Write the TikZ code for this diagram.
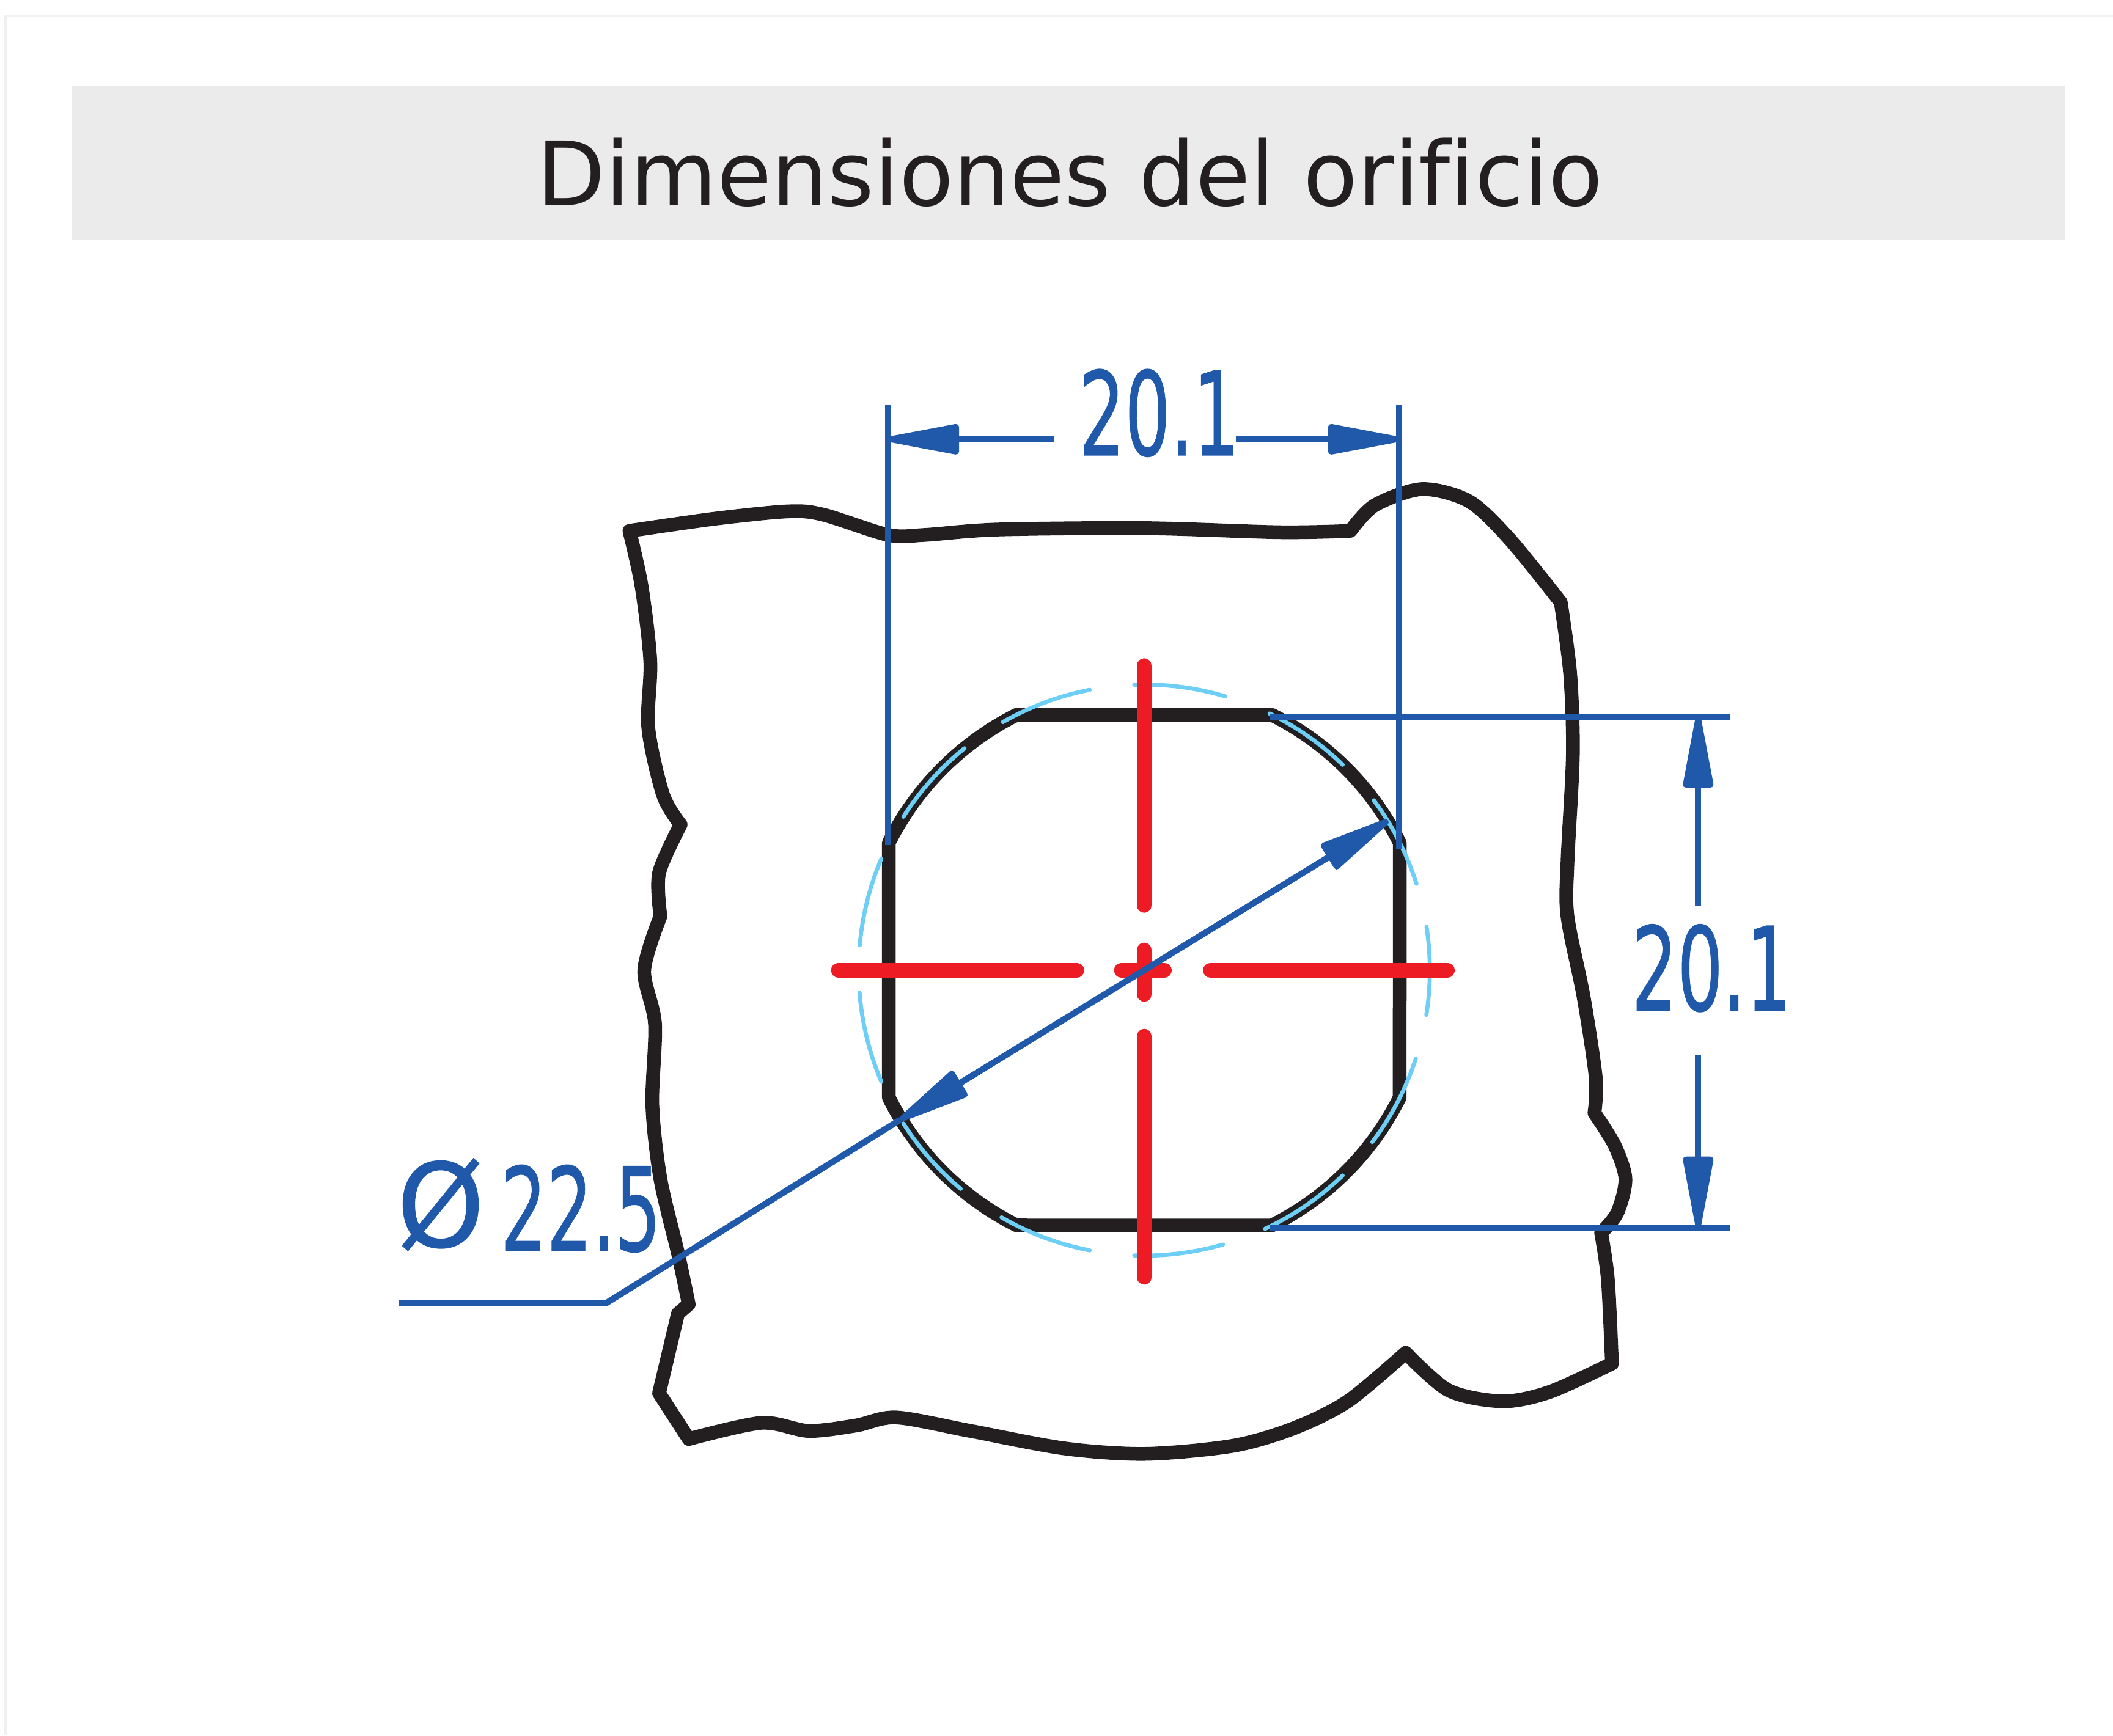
\documentclass[tikz,border=0pt]{standalone}
\usepackage{fontspec}
\setmainfont{DejaVu Sans}[Ligatures=NoCommon]
\newfontfamily\dimfont{DejaVu Sans}[FakeBold=0.7]
\usetikzlibrary{arrows.meta}
\definecolor{inkblack}{HTML}{231F20}
\definecolor{dimblue}{HTML}{2059A9}
\definecolor{cenred}{HTML}{ED1C24}
\definecolor{lightcirc}{HTML}{6DCFF6}
\definecolor{bandgray}{HTML}{EBEBEB}
\definecolor{framegray}{HTML}{F0F0F0}
\tikzset{
  outline/.style={draw=inkblack,line width=6.4pt,line join=round,line cap=round},
  dimline/.style={draw=dimblue,line width=2.9pt},
  dimarrow/.style={dimline,-{Triangle[length=40pt,width=14pt,round]}},
  cenline/.style={draw=cenred,line width=6.8pt,line cap=round},
  circarc/.style={draw=lightcirc,line width=1.9pt,line cap=round},
  dimtext/.style={font=\dimfont\fontsize{54}{54}\selectfont,text=dimblue,inner sep=0pt,xscale=.62},
}
\begin{document}
\begin{tikzpicture}[x=0.02205cm,y=-0.02205cm]
\useasboundingbox (0,0) rectangle (1567.8,1288);
\draw[framegray,line width=1pt] (4,1288) -- (4,12) -- (1568,12);
\fill[bandgray] (53,64) rectangle (1532,178);
\node[font=\fontsize{41.4}{41.4}\selectfont,text=inkblack,inner sep=0pt,anchor=base] (title) at (794,152.5) {Dimensiones del orificio};
% plate outline
\draw[outline] plot[smooth,tension=.5] coordinates {(467,394) (530,385) (585,379.5) (611,382) (659,397) (686,397) (740,393) (850,392) (950,395) (1002,394)}
 -- plot[smooth,tension=.5] coordinates {(1002,394) (1020,375) (1055,363) (1090,372) (1120,400) (1158,447)}
 -- plot[smooth,tension=.5] coordinates {(1158,447) (1165,500) (1167,560) (1163,640) (1163,680) (1175,740) (1184,800) (1183,826)}
 -- plot[smooth,tension=.5] coordinates {(1183,826) (1198,850) (1206,875) (1200,900) (1188,915)}
 -- plot[smooth,tension=.5] coordinates {(1188,915) (1193,950) (1196,1012)}
 -- plot[smooth,tension=.5] coordinates {(1196,1012) (1150,1033) (1115,1040) (1075,1032) (1043,1004)}
 -- plot[smooth,tension=.5] coordinates {(1043,1004) (1000,1040) (960,1060) (915,1073) (850,1079) (790,1075) (720,1062) (665,1052) (635,1058) (600,1062) (565,1056) (511,1068)}
 -- (489,1034) -- (503,975) -- (511,968)
 -- plot[smooth,tension=.5] coordinates {(511,968) (503,930) (490,875) (484,820) (486,760) (478,720) (490,680)}
 -- plot[smooth,tension=.5] coordinates {(490,680) (489,648) (505,612)}
 -- plot[smooth,tension=.5] coordinates {(505,612) (492,590) (481,540) (482.5,491) (476,435) (467,394)} -- cycle;
\begin{scope}[shift={(849,720)}]
% hole
\draw[outline] (-94.5,-189.5) -- (94.5,-189.5)
  arc[start angle=-63.5,end angle=-26.5,radius=211.9] -- (189.5,94.5)
  arc[start angle=26.5,end angle=63.5,radius=211.9] -- (-94.5,189.5)
  arc[start angle=116.5,end angle=153.5,radius=211.9] -- (-189.5,-94.5)
  arc[start angle=206.5,end angle=243.5,radius=211.9] -- cycle;
% dashed enclosing circle
\foreach \a/\b in {-92/-73.5,-64/-46,-36.5/-17.6,-8.7/9,18/37,46/65,74/92,101/120,130/147.5,157/175.5,185/203,212.5/231,240.3/259}
  \draw[circarc] (\a:211.9) arc[start angle=\a,end angle=\b,radius=211.9];
\end{scope}
% centre lines
\draw[cenline] (849,494) -- (849,672);
\draw[cenline] (849,705) -- (849,738);
\draw[cenline] (849,769) -- (849,948);
\draw[cenline] (622,720) -- (799,720);
\draw[cenline] (832,720) -- (864,720);
\draw[cenline] (898,720) -- (1074,720);
% dimension coordinates
\coordinate (c) at (849,720);
\coordinate (tipA) at (1030,609);
\coordinate (tipB) at (668,831);
\coordinate (knee) at (450,967);
\coordinate (lead) at (296,967);
\coordinate (tl) at (659,300); \coordinate (bl) at (659,627);
\coordinate (tr) at (1038,300); \coordinate (br) at (1038,630);
\coordinate (al) at (659,326); \coordinate (ar) at (1038,326);
\coordinate (hl) at (942,532); \coordinate (he) at (1284,532);
\coordinate (ll) at (942,911); \coordinate (le) at (1284,911);
\coordinate (vt) at (1260,532); \coordinate (vb) at (1260,911);
% texts
\node[dimtext] (wtext) at (860,306.5) {20.1};
\node[dimtext] (htext) at (1270,718.5) {20.1};
\node[dimtext] (dtext) at (431,897) {22.5};
\node[dimtext,xscale=1.55] (dsym) at (327,894) {Ø};
% extension lines
\draw[dimline] (tl) -- (bl);
\draw[dimline] (tr) -- (br);
\draw[dimline] (hl) -- (he);
\draw[dimline] (ll) -- (le);
% horizontal dimension
\draw[dimarrow] (782,326) -- (al);
\draw[dimarrow] (917,326) -- (ar);
% vertical dimension
\draw[dimarrow] (1260,672) -- (vt);
\draw[dimarrow] (1260,783) -- (vb);
% diameter
\draw[dimarrow] (c) -- (tipA);
\draw[dimarrow] (c) -- (tipB);
\draw[dimline,line join=miter] (tipB) -- (knee) -- (lead);
\end{tikzpicture}
\end{document}
